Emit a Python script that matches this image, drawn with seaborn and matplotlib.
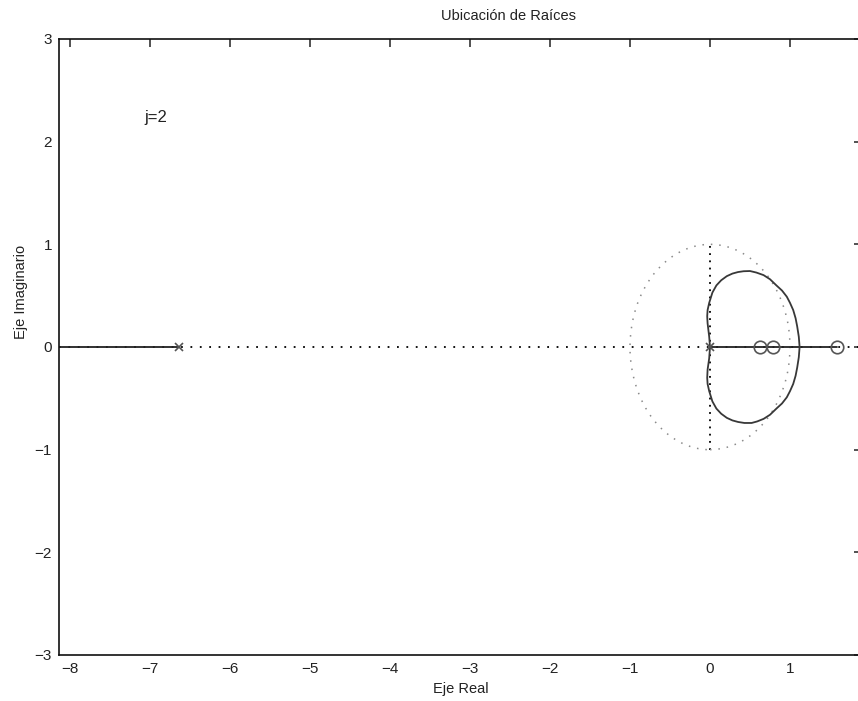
import numpy as np
import pandas as pd
import seaborn as sns
import matplotlib.pyplot as plt
from matplotlib.patches import Circle

# polos y ceros del lazo abierto
polos_re = [-6.64, 0.0]
polos_im = [0.0, 0.0]
ceros_re = [0.62, 0.79, 1.59]
ceros_im = [0.0, 0.0, 0.0]

# rama compleja (mitad superior y mitad inferior)
rama_sup_re = [0.0, -0.01, -0.03, -0.035, -0.03, -0.01, 0.03, 0.08, 0.14, 0.21, 0.28, 0.35, 0.42,
               0.50, 0.58, 0.67, 0.75, 0.83, 0.90, 0.96, 1.00, 1.04, 1.07, 1.09, 1.11, 1.12]
rama_sup_im = [0.0, 0.10, 0.23, 0.30, 0.36, 0.43, 0.53, 0.60, 0.65, 0.69, 0.715, 0.73, 0.738,
               0.74, 0.725, 0.70, 0.66, 0.60, 0.55, 0.49, 0.43, 0.36, 0.28, 0.20, 0.10, 0.0]
rama_inf_re = [0.0, -0.01, -0.03, -0.035, -0.03, -0.01, 0.03, 0.08, 0.14, 0.21, 0.28, 0.35, 0.43,
               0.52, 0.59, 0.67, 0.75, 0.83, 0.90, 0.96, 1.00, 1.04, 1.07, 1.09, 1.11, 1.12]
rama_inf_im = [0.0, -0.11, -0.22, -0.30, -0.36, -0.43, -0.53, -0.60, -0.65, -0.69, -0.715, -0.73, -0.74,
               -0.74, -0.725, -0.70, -0.66, -0.60, -0.55, -0.49, -0.43, -0.36, -0.28, -0.20, -0.10, 0.0]

# ramas sobre el eje real
rama_izq_re = [-9.0, -6.64]
rama_der_re = [0.0, 1.59]

xticks = [-8, -7, -6, -5, -4, -3, -2, -1, 0, 1]
yticks = [-3, -2, -1, 0, 1, 2, 3]

sns.set_style('white')
plt.rcParams['font.family'] = ['Liberation Sans', 'DejaVu Sans']

fig = plt.figure(figsize=(8.58, 7.01), dpi=100)
ax = fig.add_axes([59/858, 46/701, 803/858, 616/701])

# ejes de referencia punteados
ax.axhline(0, color='black', lw=1.3, ls=(0, (1, 4.2)), zorder=1)
ax.plot([0, 0], [-1, 1], color='black', lw=1.3, ls=(0, (1, 3.0)), zorder=1)
ax.add_patch(Circle((0, 0), 1, fill=False, edgecolor='#8a8a8a', lw=1.1,
                    ls=(0, (1, 4.5)), zorder=1))

# lugar de raices
df_sup = pd.DataFrame({'re': rama_sup_re, 'im': rama_sup_im})
df_inf = pd.DataFrame({'re': rama_inf_re, 'im': rama_inf_im})
sns.lineplot(data=df_sup, x='re', y='im', sort=False, estimator=None,
             color='#383838', lw=1.3, ax=ax, zorder=3)
sns.lineplot(data=df_inf, x='re', y='im', sort=False, estimator=None,
             color='#383838', lw=1.3, ax=ax, zorder=3)
ax.plot(rama_izq_re, [0, 0], color='#222222', lw=1.3, zorder=2)
ax.plot(rama_der_re, [0, 0], color='#222222', lw=1.3, zorder=2)

# polos (x) y ceros (o)
ax.plot(polos_re, polos_im, 'x', color='#555555', ms=6, mew=1.2, zorder=4)
ax.plot(ceros_re, ceros_im, 'o', mfc='none', mec='#555555', ms=9, mew=1.2, zorder=4)

ax.text(-6.925, 2.24, 'j=2', fontsize=12, ha='center', va='center', color='#222222')

ax.set_xlim(-8.1375, 1.9)
ax.set_ylim(-3, 3)
ax.set_xticks(xticks)
ax.set_yticks(yticks)
ax.tick_params(direction='in', length=5.8, width=1.1, top=True, right=True,
               labelsize=11, pad=5, colors='#222222')
for s in ax.spines.values():
    s.set_color('#111111')
    s.set_linewidth(1.2)

ax.set_title('Ubicación de Raíces', fontsize=10.5, x=0.56, pad=14, color='#222222')
ax.set_xlabel('Eje Real', fontsize=10.5, labelpad=4, color='#222222')
ax.set_ylabel('Eje Imaginario', fontsize=10.5, color='#222222')
ax.yaxis.set_label_coords(-0.038, 0.59)

fig.savefig('out.png', dpi=100)
